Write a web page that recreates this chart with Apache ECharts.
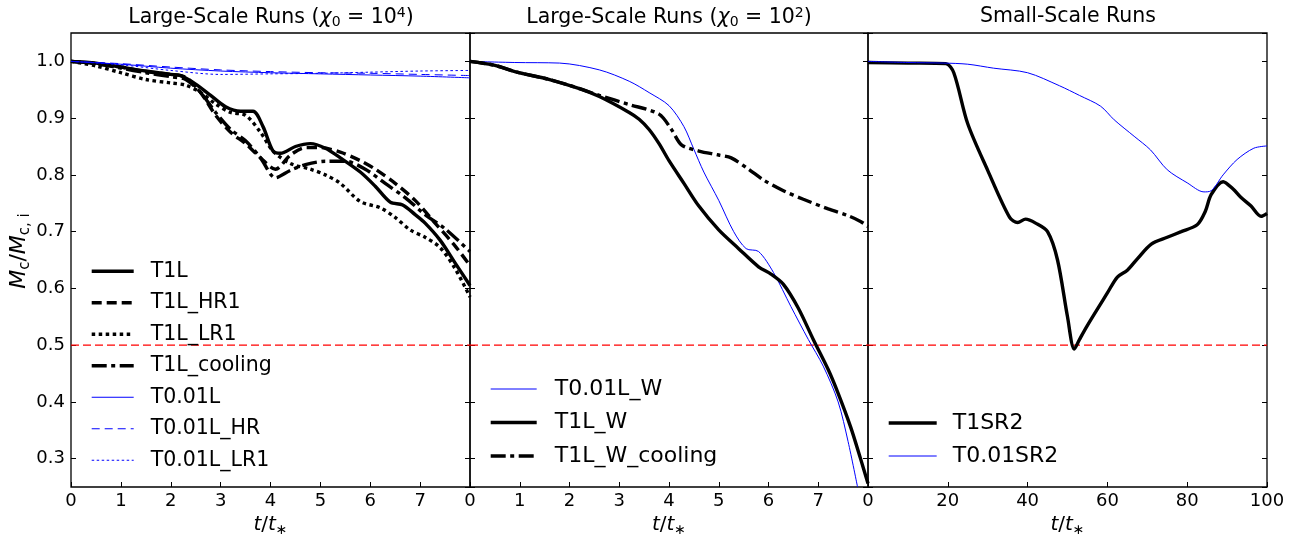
<!DOCTYPE html>
<html>
<head>
<meta charset="utf-8">
<script src="https://cdn.jsdelivr.net/npm/echarts@6/dist/echarts.min.js"></script>
<style>
  html, body { margin: 0; padding: 0; background: #ffffff; }
  #chart { width: 1302px; height: 538px; }
</style>
</head>
<body>
<div id="chart"></div>
<script>
// ---- panel 1 : large-scale runs, chi0 = 1e4 ----
const t1l_t = [0, 0.5, 1, 1.5, 2, 2.2, 2.5, 2.8, 3.1, 3.4, 3.65, 3.85, 4.05, 4.2, 4.5, 4.8, 5.1, 5.4, 5.8, 6.1, 6.4, 6.65, 6.9, 7.1, 7.4, 7.7, 8]
const t1l_v = [1.0, 0.997, 0.99, 0.983, 0.977, 0.975, 0.96, 0.94, 0.92, 0.912, 0.912, 0.885, 0.842, 0.838, 0.85, 0.855, 0.847, 0.83, 0.805, 0.78, 0.752, 0.747, 0.73, 0.715, 0.685, 0.645, 0.605]

const t1lHR1_t = [0, 0.5, 1, 1.5, 2, 2.3, 2.6, 2.9, 3.2, 3.5, 3.8, 4.1, 4.4, 4.7, 5, 5.4, 5.8, 6.1, 6.5, 6.9, 7.3, 7.7, 8]
const t1lHR1_v = [1.0, 0.996, 0.99, 0.982, 0.977, 0.972, 0.945, 0.905, 0.875, 0.855, 0.83, 0.81, 0.835, 0.848, 0.848, 0.84, 0.825, 0.81, 0.785, 0.755, 0.715, 0.675, 0.64]

const t1lLR1_t = [0, 0.5, 1, 1.5, 2, 2.3, 2.6, 2.9, 3.2, 3.5, 3.8, 4.05, 4.4, 4.8, 5.1, 5.4, 5.8, 6.2, 6.5, 6.8, 7.1, 7.4, 7.7, 8]
const t1lLR1_v = [1.0, 0.992, 0.98, 0.968, 0.962, 0.958, 0.945, 0.925, 0.91, 0.905, 0.875, 0.842, 0.82, 0.81, 0.8, 0.785, 0.753, 0.742, 0.725, 0.703, 0.69, 0.672, 0.635, 0.585]

const t1lCool_t = [0, 0.5, 1, 1.5, 2, 2.3, 2.6, 2.9, 3.2, 3.5, 3.8, 4.1, 4.4, 4.7, 5.1, 5.5, 5.9, 6.3, 6.7, 7.1, 7.5, 8]
const t1lCool_v = [1.0, 0.996, 0.988, 0.98, 0.973, 0.968, 0.945, 0.91, 0.88, 0.86, 0.83, 0.795, 0.808, 0.818, 0.824, 0.824, 0.81, 0.785, 0.76, 0.73, 0.705, 0.665]

const t001l_t = [0, 1, 2, 3, 4, 5, 6, 7, 8]
const t001l_v = [1.0, 0.995, 0.988, 0.983, 0.98, 0.978, 0.976, 0.974, 0.971]
const t001lHR_v = [1.0, 0.996, 0.99, 0.985, 0.982, 0.98, 0.979, 0.977, 0.975]
const t001lLR1_v = [1.0, 0.994, 0.984, 0.977, 0.978, 0.979, 0.981, 0.983, 0.984]

// ---- panel 2 : large-scale runs, chi0 = 1e2 ----
const t001lW_t = [0, 0.9, 1.8, 2.6, 3.2, 3.6, 4.0, 4.3, 4.5, 4.7, 5.0, 5.3, 5.55, 5.8, 6.1, 6.45, 6.8, 7.1, 7.4, 7.6, 7.79]
const t001lW_v = [1.0, 0.998, 0.997, 0.985, 0.965, 0.945, 0.922, 0.885, 0.845, 0.805, 0.755, 0.7, 0.67, 0.665, 0.628, 0.568, 0.51, 0.463, 0.4, 0.33, 0.25]

const t1lW_t = [0, 0.5, 0.9, 1.6, 2.2, 2.6, 3.2, 3.4, 3.6, 3.8, 4.0, 4.3, 4.6, 5.0, 5.4, 5.8, 6.05, 6.3, 6.6, 6.9, 7.2, 7.4, 7.65, 7.85, 8]
const t1lW_v = [1.0, 0.993, 0.982, 0.968, 0.952, 0.938, 0.91, 0.898, 0.88, 0.855, 0.825, 0.785, 0.745, 0.703, 0.67, 0.638, 0.625, 0.607, 0.565, 0.51, 0.457, 0.415, 0.356, 0.3, 0.256]

const t1lWCool_t = [0, 0.5, 0.9, 1.6, 2.2, 2.6, 3.2, 3.8, 4.05, 4.25, 4.6, 5.0, 5.25, 5.6, 5.9, 6.3, 6.7, 7.2, 7.6, 7.85, 8]
const t1lWCool_v = [1.0, 0.993, 0.982, 0.968, 0.952, 0.94, 0.924, 0.907, 0.88, 0.853, 0.842, 0.835, 0.83, 0.81, 0.791, 0.772, 0.757, 0.74, 0.728, 0.718, 0.709]

// ---- panel 3 : small-scale runs ----
const t1sr2_t = [0, 10, 19.5, 21.5, 25, 30, 35.5, 37.5, 39.5, 42, 45, 47.5, 50, 51.7, 53, 55, 60, 62.5, 65, 67.5, 71, 75, 78.5, 82.5, 84.5, 86, 89, 91.5, 93.5, 96, 98.5, 100]
const t1sr2_v = [0.998, 0.997, 0.996, 0.98, 0.89, 0.808, 0.725, 0.716, 0.722, 0.715, 0.7, 0.65, 0.55, 0.493, 0.51, 0.535, 0.592, 0.62, 0.632, 0.652, 0.678, 0.69, 0.7, 0.712, 0.735, 0.765, 0.788, 0.775, 0.76, 0.745, 0.727, 0.732]

const t001sr2_t = [0, 10, 19, 25, 31.5, 40, 48, 53, 58.3, 61.7, 66.7, 70.8, 75, 80, 84.2, 86, 89, 92.5, 96.7, 100]
const t001sr2_v = [1.0, 0.998, 0.997, 0.995, 0.988, 0.98, 0.957, 0.94, 0.921, 0.897, 0.868, 0.844, 0.809, 0.786, 0.77, 0.772, 0.8, 0.827, 0.847, 0.851]

// half of the initial mass, drawn as a red dashed line in every panel
const halfMass = 0.5

const FONT = 'DejaVu Sans'
const RED = '#ff0000'
const chart = echarts.init(document.getElementById('chart'))

function pairs(t, v) {
  return t.map((x, i) => [x, v[i]])
}

// dash patterns
const DASH = [10, 5]
const DOT = [3.5, 3.5]
const DASHDOT = [15, 4.5, 4, 4.5]
const THICK = 3.4

function line(name, panel, t, v, color, width, type) {
  return {
    name: name,
    type: 'line',
    xAxisIndex: panel,
    yAxisIndex: panel * 2,
    data: pairs(t, v),
    symbol: 'none',
    smooth: 0.3,
    color: color,
    lineStyle: { color: color, width: width, type: type },
    emphasis: { disabled: true }
  }
}

const panels = [
  { left: 71, width: 399, max: 8, interval: 1, showMax: false },
  { left: 470, width: 398, max: 8, interval: 1, showMax: false },
  { left: 868, width: 399, max: 100, interval: 20, showMax: true }
]

const grid = panels.map(p => ({
  left: p.left, width: p.width, top: 33, height: 454,
  outerBoundsMode: 'none',
  show: true, borderColor: '#000', borderWidth: 1.3, backgroundColor: 'transparent'
}))

const xAxis = panels.map((p, i) => ({
  type: 'value',
  gridIndex: i,
  min: 0, max: p.max, interval: p.interval,
  axisLine: { show: false },
  axisTick: { inside: true, length: 5, lineStyle: { color: '#000', width: 1 } },
  axisLabel: { showMaxLabel: p.showMax, margin: 5, fontSize: 18, fontFamily: FONT, color: '#000' },
  splitLine: { show: false },
  name: '{i|t}/{i|t}{sub|∗}',
  nameLocation: 'middle',
  nameGap: 23,
  nameTextStyle: {
    fontSize: 20, fontFamily: FONT, color: '#000',
    rich: {
      i: { fontSize: 20, fontFamily: FONT, fontStyle: 'italic', color: '#000' },
      sub: { fontSize: 14, fontFamily: FONT, color: '#000', padding: [10, 0, 0, 0] }
    }
  }
}))

const yAxis = []
panels.forEach((p, i) => {
  ['left', 'right'].forEach(pos => {
    yAxis.push({
      type: 'value',
      gridIndex: i,
      position: pos,
      min: 0.25, max: 1.05, splitNumber: 8, minInterval: 0.1, maxInterval: 0.1,
      axisLine: { show: false },
      axisTick: { inside: true, length: 5, lineStyle: { color: '#000', width: 1 } },
      axisLabel: {
        show: i === 0 && pos === 'left',
        showMinLabel: false, showMaxLabel: false,
        formatter: v => v.toFixed(1),
        margin: 6, fontSize: 18, fontFamily: FONT, color: '#000'
      },
      splitLine: { show: false },
      name: (i === 0 && pos === 'left') ? '{i|M}{sub|c}/{i|M}{sub|c, i}' : '',
      nameLocation: 'middle',
      nameRotate: 90,
      nameGap: 36,
      nameTextStyle: {
        fontSize: 22, fontFamily: FONT, color: '#000', padding: [0, 0, 0, 18],
        rich: {
          i: { fontSize: 22, fontFamily: FONT, fontStyle: 'italic', color: '#000' },
          sub: { fontSize: 15, fontFamily: FONT, color: '#000', padding: [11, 0, 0, 0] }
        }
      }
    })
  })
})

const series = [
  line('T1L', 0, t1l_t, t1l_v, '#000', THICK, 'solid'),
  line('T1L_HR1', 0, t1lHR1_t, t1lHR1_v, '#000', THICK, DASH),
  line('T1L_LR1', 0, t1lLR1_t, t1lLR1_v, '#000', THICK, DOT),
  line('T1L_cooling', 0, t1lCool_t, t1lCool_v, '#000', THICK, DASHDOT),
  line('T0.01L', 0, t001l_t, t001l_v, '#0000ff', 1, 'solid'),
  line('T0.01L_HR', 0, t001l_t, t001lHR_v, '#0000ff', 1, [8, 5]),
  line('T0.01L_LR1', 0, t001l_t, t001lLR1_v, '#0000ff', 1, [2.5, 2.5]),

  line('T0.01L_W', 1, t001lW_t, t001lW_v, '#0000ff', 1, 'solid'),
  line('T1L_W', 1, t1lW_t, t1lW_v, '#000', THICK, 'solid'),
  line('T1L_W_cooling', 1, t1lWCool_t, t1lWCool_v, '#000', THICK, DASHDOT),

  line('T1SR2', 2, t1sr2_t, t1sr2_v, '#000', THICK, 'solid'),
  line('T0.01SR2', 2, t001sr2_t, t001sr2_v, '#0000ff', 1, 'solid')
]

// the 0.5 reference line, across each panel's x range
panels.forEach((p, i) => {
  series.push({
    name: 'half' + i,
    type: 'line',
    xAxisIndex: i,
    yAxisIndex: i * 2,
    data: [[0, halfMass], [p.max, halfMass]],
    symbol: 'none',
    silent: true,
    z: 1,
    color: RED,
    lineStyle: { color: RED, width: 1.3, type: [8, 4] }
  })
})

function legend(names, left, top, itemWidth, fontSize, gap, textPad) {
  return {
    data: names,
    orient: 'vertical',
    left: left, top: top,
    padding: 0,
    itemWidth: itemWidth, itemHeight: 14,
    itemGap: gap,
    selectedMode: false,
    // hide the symbol the line icon carries, keep the series line look
    itemStyle: { opacity: 0 },
    lineStyle: { width: 'inherit', type: 'inherit' },
    textStyle: { fontSize: fontSize, fontFamily: FONT, color: '#000', lineHeight: fontSize + 2, padding: [0, 0, 0, textPad] }
  }
}

const titleRich = {
  i: { fontSize: 20.5, fontFamily: FONT, fontStyle: 'italic', color: '#000' },
  sub: { fontSize: 14, fontFamily: FONT, color: '#000', padding: [9, 0, 0, 0] },
  sup: { fontSize: 14, fontFamily: FONT, color: '#000', padding: [0, 0, 9, 0] }
}
function title(text, center) {
  return {
    text: text, left: center, top: 6, textAlign: 'center', padding: 0,
    textStyle: { fontSize: 20.5, fontWeight: 'normal', fontFamily: FONT, color: '#000', rich: titleRich }
  }
}

const option = {
  animation: false,
  backgroundColor: '#ffffff',
  title: [
    title('Large-Scale Runs ({i|χ}{sub|0} = 10{sup|4})', 271),
    title('Large-Scale Runs ({i|χ}{sub|0} = 10{sup|2})', 669),
    title('Small-Scale Runs', 1068)
  ],
  legend: [
    legend(['T1L', 'T1L_HR1', 'T1L_LR1', 'T1L_cooling', 'T0.01L', 'T0.01L_HR', 'T0.01L_LR1'], 90, 260, 42, 20.5, 9, 12),
    legend(['T0.01L_W', 'T1L_W', 'T1L_W_cooling'], 489, 377, 46, 22, 9.5, 13),
    legend(['T1SR2', 'T0.01SR2'], 887, 411, 48, 22, 9, 11)
  ],
  grid: grid,
  xAxis: xAxis,
  yAxis: yAxis,
  series: series
}

chart.setOption(option)
</script>
</body>
</html>
